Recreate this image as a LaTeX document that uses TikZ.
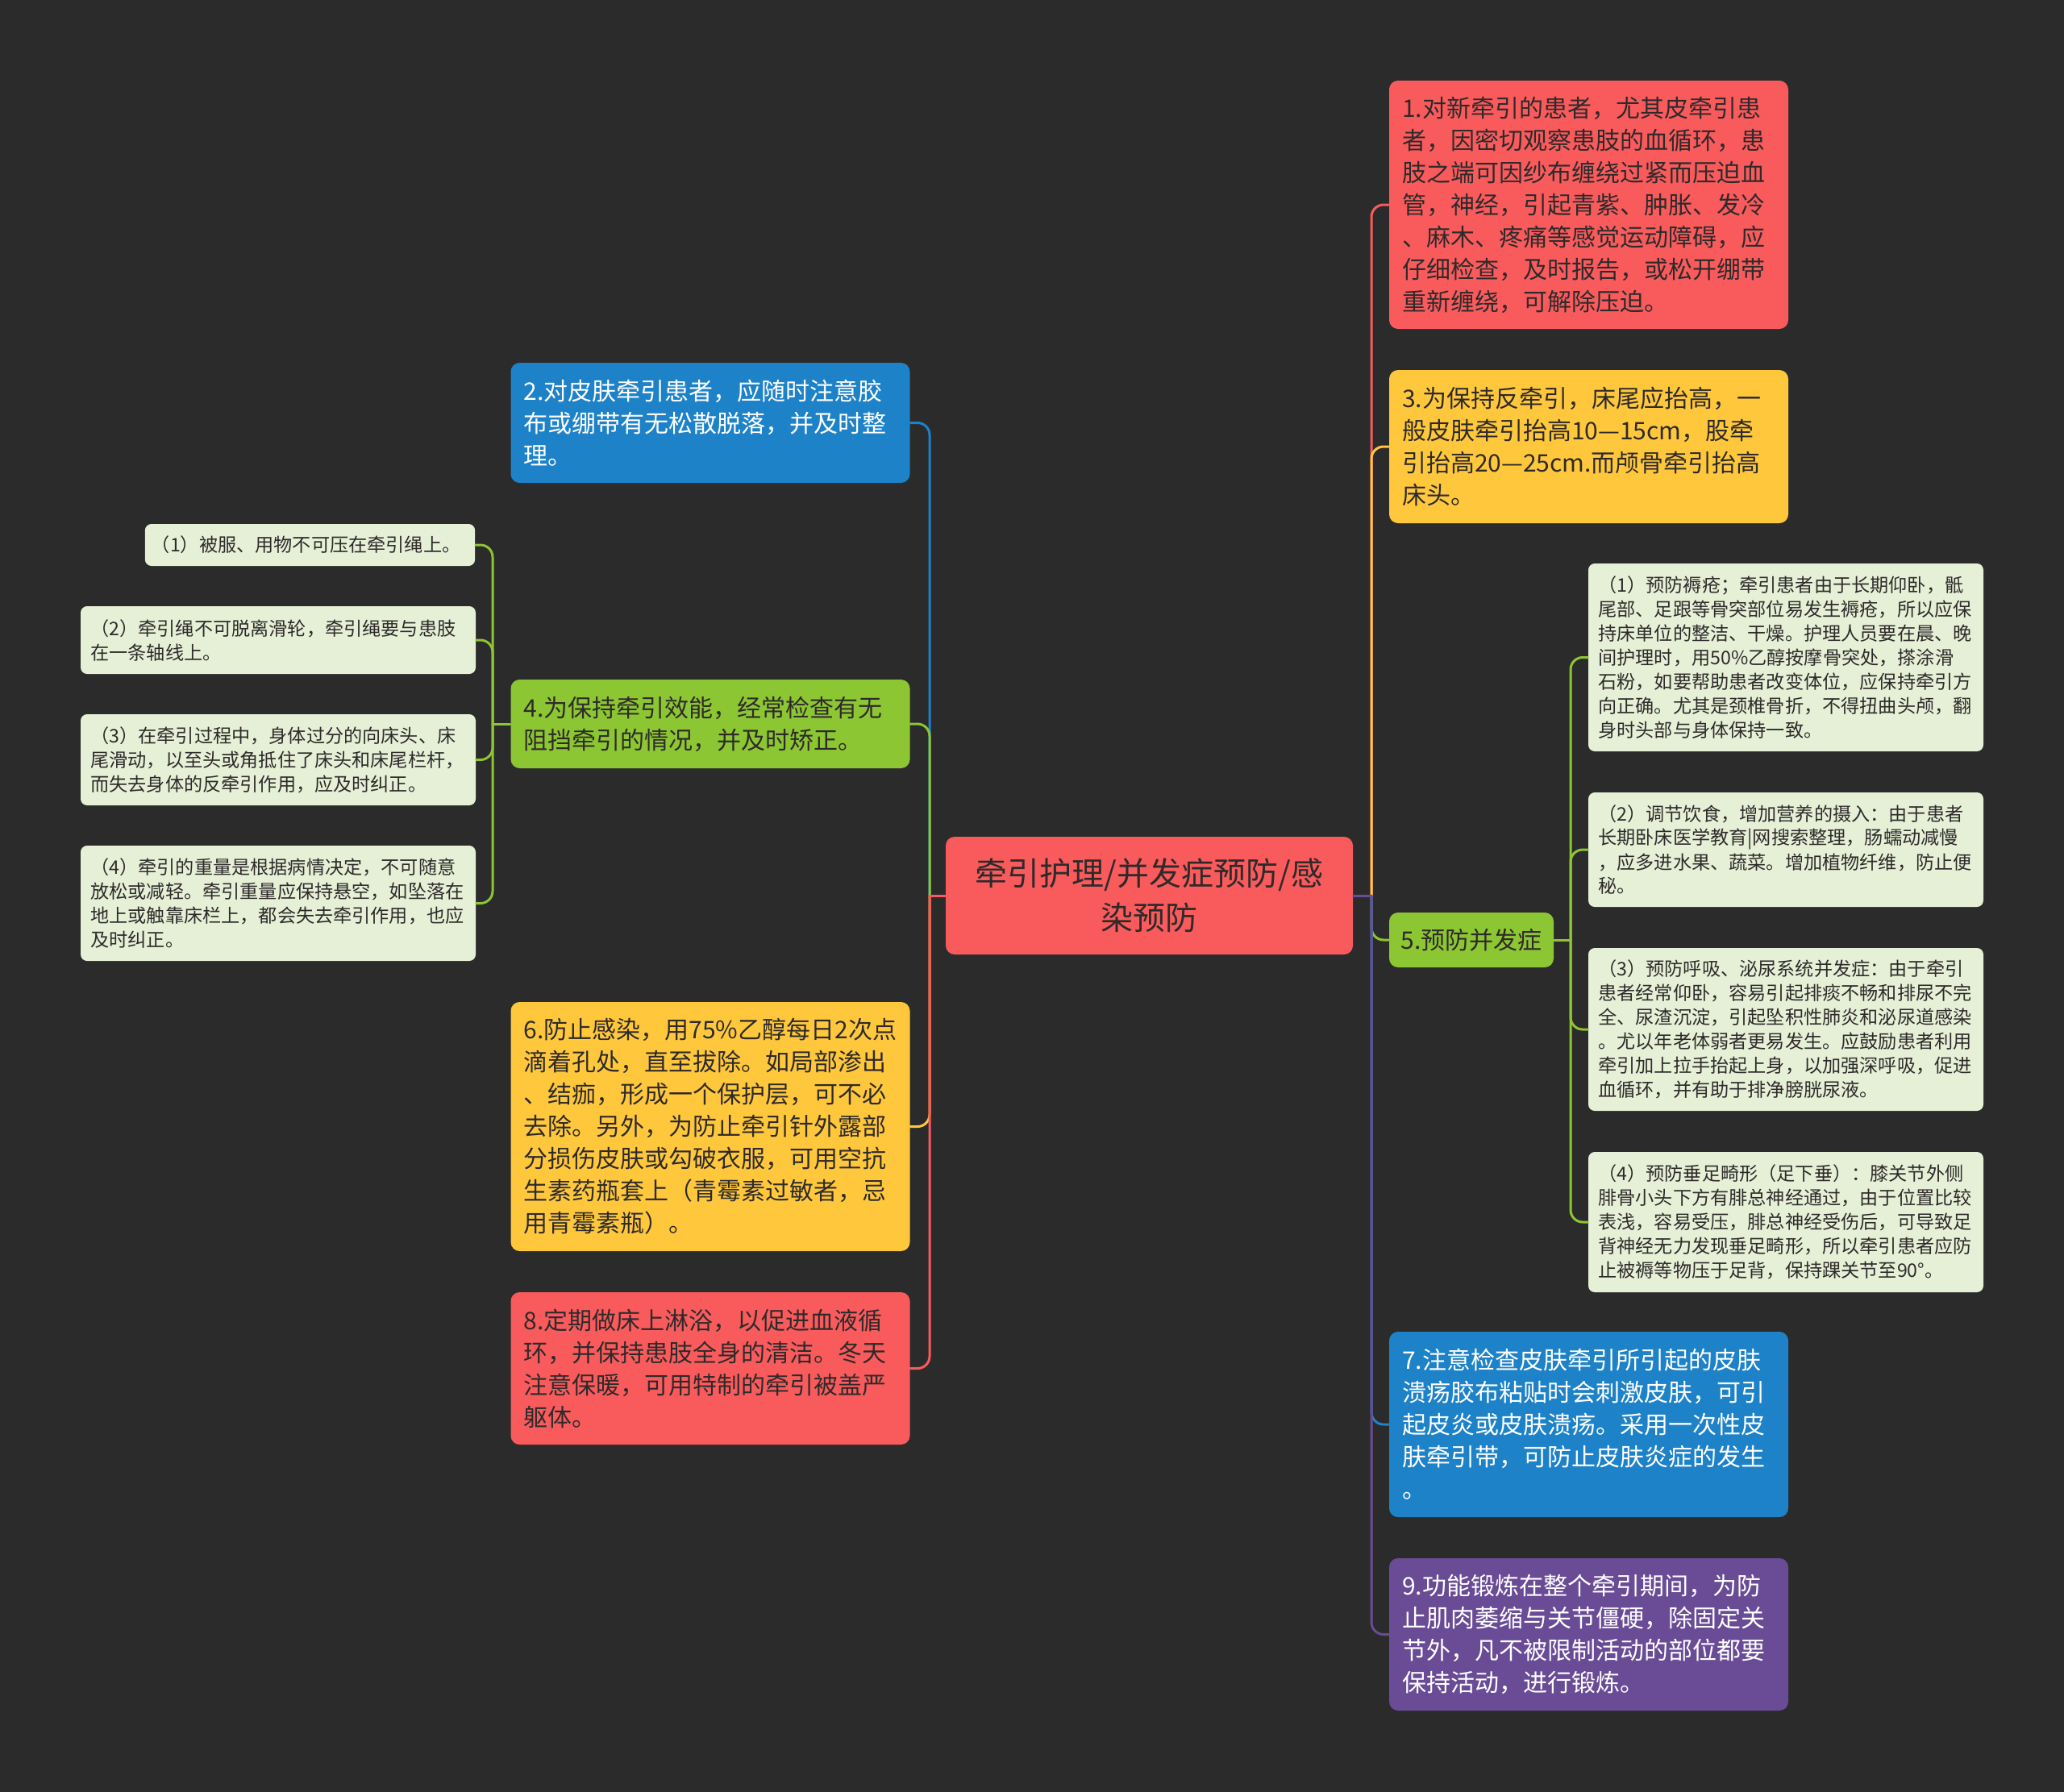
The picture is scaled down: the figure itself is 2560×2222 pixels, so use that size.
\documentclass[tikz,border=0pt]{standalone}
\usepackage{fontspec}
\setmainfont{Noto Sans CJK SC}
\usepackage{xcolor}
\usepackage{tikz}
\definecolor{bgdark}{HTML}{2B2B2B}
\definecolor{topicred}{HTML}{F95B5D}
\definecolor{topicblue}{HTML}{1E82C8}
\definecolor{topicgreen}{HTML}{8CC632}
\definecolor{topicyellow}{HTML}{FFC83C}
\definecolor{topicpurple}{HTML}{6A4C96}
\definecolor{leafgreen}{HTML}{E6F0D7}
\definecolor{inkdark}{HTML}{2E2A2A}

\begin{document}
\begin{tikzpicture}[
    x=0.3pt, y=-0.3pt,
    font=\fontsize{9}{12}\selectfont,
    root/.style={rectangle, rounded corners=3.3pt, fill=topicred, text=inkdark,
                 align=center, minimum width=151.5pt, minimum height=43.8pt,
                 font=\fontsize{12}{16.4}\selectfont},
    topic/.style={rectangle, rounded corners=3.3pt, text=inkdark, align=left,
                  text width=138.9pt, inner xsep=4.8pt, inner ysep=0pt},
    leaf/.style={rectangle, rounded corners=2.4pt, fill=leafgreen, text=inkdark,
                 align=left, text width=139.6pt, inner xsep=3.7pt, inner ysep=0pt,
                 font=\fontsize{6.95}{9}\selectfont},
    link/.style={line width=0.9pt, line cap=round, rounded corners=4.5pt}
  ]
    \useasboundingbox (0,0) rectangle (2560,2222);
    \fill[bgdark] (-20,-20) rectangle (2580,2242);

    \node[root] (root) at (1425.5,1111) {牵引护理/并发症预防/感\\染预防};

    % right branch
    \node[topic, fill=topicred, minimum height=92.4pt] (n1) at (1970.5,254) {1.对新牵引的患者，尤其皮牵引患\\者，因密切观察患肢的血循环，患\\肢之端可因纱布缠绕过紧而压迫血\\管，神经，引起青紫、肿胀、发冷\\、麻木、疼痛等感觉运动障碍，应\\仔细检查，及时报告，或松开绷带\\重新缠绕，可解除压迫。};
    \node[topic, fill=topicyellow, minimum height=57pt] (n3) at (1970.5,554) {3.为保持反牵引，床尾应抬高，一\\般皮肤牵引抬高10—15cm，股牵\\引抬高20—25cm.而颅骨牵引抬高\\床头。};
    \node[rectangle, rounded corners=3.3pt, fill=topicgreen, text=inkdark,
          minimum width=61.2pt, minimum height=20.4pt] (n5) at (1825,1166) {5.预防并发症};
    \node[topic, fill=topicblue, text=white, minimum height=69pt] (n7) at (1970.5,1767) {7.注意检查皮肤牵引所引起的皮肤\\溃疡胶布粘贴时会刺激皮肤，可引\\起皮炎或皮肤溃疡。采用一次性皮\\肤牵引带，可防止皮肤炎症的发生\\。};
    \node[topic, fill=topicpurple, text=white, minimum height=56.7pt] (n9) at (1970.5,2027.5) {9.功能锻炼在整个牵引期间，为防\\止肌肉萎缩与关节僵硬，除固定关\\节外，凡不被限制活动的部位都要\\保持活动，进行锻炼。};

    \node[leaf, minimum height=69.9pt] (s51) at (2215,815.5) {（1）预防褥疮；牵引患者由于长期仰卧，骶\\尾部、足跟等骨突部位易发生褥疮，所以应保\\持床单位的整洁、干燥。护理人员要在晨、晚\\间护理时，用50\%乙醇按摩骨突处，搽涂滑\\石粉，如要帮助患者改变体位，应保持牵引方\\向正确。尤其是颈椎骨折，不得扭曲头颅，翻\\身时头部与身体保持一致。};
    \node[leaf, minimum height=42.6pt] (s52) at (2215,1054) {（2）调节饮食，增加营养的摄入：由于患者\\长期卧床医学教育|网搜索整理，肠蠕动减慢\\，应多进水果、蔬菜。增加植物纤维，防止便\\秘。};
    \node[leaf, minimum height=60.6pt] (s53) at (2215,1277) {（3）预防呼吸、泌尿系统并发症：由于牵引\\患者经常仰卧，容易引起排痰不畅和排尿不完\\全、尿渣沉淀，引起坠积性肺炎和泌尿道感染\\。尤以年老体弱者更易发生。应鼓励患者利用\\牵引加上拉手抬起上身，以加强深呼吸，促进\\血循环，并有助于排净膀胱尿液。};
    \node[leaf, minimum height=52.2pt] (s54) at (2215,1516) {（4）预防垂足畸形（足下垂）：膝关节外侧\\腓骨小头下方有腓总神经通过，由于位置比较\\表浅，容易受压，腓总神经受伤后，可导致足\\背神经无力发现垂足畸形，所以牵引患者应防\\止被褥等物压于足背，保持踝关节至90°。};

    % left branch
    \node[topic, fill=topicblue, text=white, minimum height=44.7pt] (n2) at (881,524.5) {2.对皮肤牵引患者，应随时注意胶\\布或绷带有无松散脱落，并及时整\\理。};
    \node[topic, fill=topicgreen, minimum height=33pt] (n4) at (881,898) {4.为保持牵引效能，经常检查有无\\阻挡牵引的情况，并及时矫正。};
    \node[topic, fill=topicyellow, minimum height=92.7pt] (n6) at (881,1397.5) {6.防止感染，用75\%乙醇每日2次点\\滴着孔处，直至拔除。如局部渗出\\、结痂，形成一个保护层，可不必\\去除。另外，为防止牵引针外露部\\分损伤皮肤或勾破衣服，可用空抗\\生素药瓶套上（青霉素过敏者，忌\\用青霉素瓶）。};
    \node[topic, fill=topicred, minimum height=56.7pt] (n8) at (881,1697.5) {8.定期做床上淋浴，以促进血液循\\环，并保持患肢全身的清洁。冬天\\注意保暖，可用特制的牵引被盖严\\躯体。};

    \node[leaf, text width=118pt, inner xsep=2.4pt, minimum height=15.6pt] (s41) at (384.5,676) {（1）被服、用物不可压在牵引绳上。};
    \node[leaf, minimum height=25.2pt] (s42) at (345,794) {（2）牵引绳不可脱离滑轮，牵引绳要与患肢\\在一条轴线上。};
    \node[leaf, minimum height=33.9pt] (s43) at (345,942.5) {（3）在牵引过程中，身体过分的向床头、床\\尾滑动，以至头或角抵住了床头和床尾栏杆，\\而失去身体的反牵引作用，应及时纠正。};
    \node[leaf, minimum height=42.9pt] (s44) at (345,1120.5) {（4）牵引的重量是根据病情决定，不可随意\\放松或减轻。牵引重量应保持悬空，如坠落在\\地上或触靠床栏上，都会失去牵引作用，也应\\及时纠正。};

    % connectors
    \coordinate (rj) at (1701,1111);
    \draw[link, topicred]    (rj) |- (n1.west);
    \draw[link, topicyellow] (rj) |- (n3.west);
    \draw[link, topicgreen]  (rj) |- (n5.west);
    \draw[link, topicblue]   (rj) |- (n7.west);
    \draw[link, topicpurple] (rj) |- (n9.west);
    \draw[link, topicpurple] (root.east) -- (rj);

    \coordinate (lj) at (1153,1111);
    \draw[link, topicblue]   (lj) |- (n2.east);
    \draw[link, topicgreen]  (lj) |- (n4.east);
    \draw[link, topicyellow] (lj) |- (n6.east);
    \draw[link, topicred]    (lj) |- (n8.east);
    \draw[link, topicred]    (root.west) -- (lj);

    \coordinate (rj5) at (1948,1166);
    \draw[link, topicgreen] (n5.east) -- (rj5);
    \foreach \s in {s51,s52,s53,s54}
      \draw[link, topicgreen] (rj5) |- (\s.west);

    \coordinate (lj4) at (611,898);
    \draw[link, topicgreen] (n4.west) -- (lj4);
    \foreach \s in {s41,s42,s43,s44}
      \draw[link, topicgreen] (lj4) |- (\s.east);
\end{tikzpicture}
\end{document}
